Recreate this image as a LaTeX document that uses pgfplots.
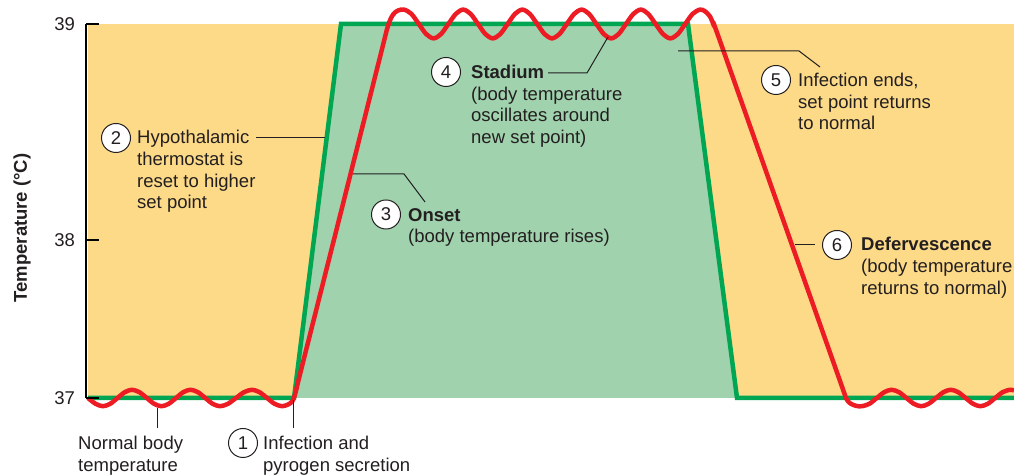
\documentclass[border=0pt]{standalone}
\usepackage{pgfplots}
\pgfplotsset{compat=1.18}
\usepackage{fontspec}
\setmainfont{Liberation Sans}
\definecolor{bgyellow}{HTML}{FDDA88}
\definecolor{fillgreen}{HTML}{A0D2AD}
\definecolor{linegreen}{HTML}{00A651}
\definecolor{linered}{HTML}{ED1C24}
\definecolor{textc}{HTML}{231F20}
\newcommand{\fs}{\fontsize{18.5}{22}\selectfont}
\newcommand{\circnum}[3]{\node[circle,draw=textc,line width=1pt,fill=white,minimum size=29pt,inner sep=0pt,font=\fs,text=textc] at (#1,#2) {#3};}
\newcommand{\txt}[3]{\node[anchor=base west,font=\fs,text=textc,inner sep=0pt] at (#1,#2) {#3};}
\begin{document}
\begin{tikzpicture}
\begin{axis}[
  scale only axis, width=927.5pt, height=374pt,
  xmin=86.5, xmax=1014, ymin=37, ymax=39,
  axis y line*=left, axis x line=none,
  y axis line style={-, line width=2pt, black},
  xtick=\empty,
  ytick={37,37.845,39}, yticklabels={37,38,39},
  tick align=inside, major tick length=13pt,
  ytick style={line width=2pt, black},
  yticklabel style={font=\fs, text=textc, xshift=-8pt},
  /pgf/number format/assume math mode=true,
  axis on top=true,
  clip=false,
]
\addplot[fill=bgyellow, draw=none] coordinates {(88,37) (88,39) (1014,39) (1014,37)} -- cycle;
\addplot[fill=fillgreen, draw=none] coordinates {(294,37) (341,39) (688,39) (737,37)} -- cycle;
\addplot[linegreen, line width=4.5pt, line join=miter] coordinates {
 (88,37) (294,37) (341,39) (688,39) (737,37) (1014,37)};
\addplot[linered, line width=4.5pt, smooth, line join=round, line cap=butt] coordinates {
 (88,37.0) (95.5,36.969) (103,36.956)
 (110.25,36.969) (117.5,37.0) (124.75,37.031) (132,37.044)
 (139.4,37.031) (146.75,37.0) (154.1,36.969) (161.5,36.956)
 (168.75,36.969) (176,37.0) (183.25,37.031) (190.5,37.044)
 (197.9,37.031) (205.25,37.0) (212.6,36.969) (220,36.956)
 (228,36.969) (236,37.0) (244,37.031) (252,37.044)
 (259.5,37.031) (267,37.0) (274.5,36.969) (282,36.956)
 (288,36.965) (292,36.98) (294,37.0) (297,37.06) (300,37.127)
 (342,38.017) (380,38.823) (388,38.99) (393,39.05) (398,39.072)
 (404,39.077) (411.4,39.054) (418.8,39.0) (426.2,38.946) (433.6,38.923)
 (441,38.946) (448.4,39.0) (455.8,39.054) (463.2,39.077)
 (470.6,39.054) (478,39.0) (485.4,38.946) (492.8,38.923)
 (500.2,38.946) (507.6,39.0) (515,39.054) (522.4,39.077)
 (529.8,39.054) (537.2,39.0) (544.6,38.946) (552,38.923)
 (559.4,38.946) (566.8,39.0) (574.2,39.054) (581.6,39.077)
 (589,39.054) (596.4,39.0) (603.8,38.946) (611.2,38.923)
 (618.6,38.946) (626,39.0) (633.4,39.054) (640.8,39.077)
 (648.2,39.054) (655.6,39.0) (663,38.946) (670.4,38.923)
 (677.8,38.946) (685.2,39.0) (692.6,39.054) (700,39.077)
 (705,39.068) (710,39.04) (714,38.99) (718,38.939)
 (780,38.0) (840,37.091) (846,37.0) (850,36.972) (856,36.958) (862,36.956)
 (869.4,36.969) (876.8,37.0) (884.2,37.031) (891.6,37.044)
 (899,37.031) (906.4,37.0) (913.8,36.969) (921.2,36.956)
 (928.6,36.969) (936,37.0) (943.4,37.031) (950.8,37.044)
 (958.2,37.031) (965.6,37.0) (973,36.969) (980.4,36.956)
 (987.8,36.969) (995.2,37.0) (1002.6,37.031) (1010,37.044) (1014,37.04)};
\coordinate (pxorigin) at (axis cs:0,39.1283);
\coordinate (pxend) at (axis cs:1014,36.5882);
\end{axis}
\begin{scope}[shift={(pxorigin)}, x=1pt, y=-1pt]
  % y label
  \node[rotate=90, font=\fs\bfseries, text=textc] at (22,228) {Temperature (°C)};
  % leader lines
  \begin{scope}[textc, line width=1pt]
    \draw (157,408) -- (157,428);
    \draw (293,400) -- (293,428);
    \draw (256,137.5) -- (325,137.5);
    \draw (425,202) -- (404,174) -- (353,174);
    \draw (548,73) -- (587,73) -- (608,37);
    \draw (820,67) -- (799,51) -- (678,51);
    \draw (795,245) -- (815,245);
  \end{scope}
  % annotation: normal body temperature
  \txt{78}{450}{Normal body}
  \txt{78}{471.5}{temperature}
  % 1
  \circnum{243}{443}{1}
  \txt{263}{450}{Infection and}
  \txt{263}{471.5}{pyrogen secretion}
  % 2
  \circnum{116}{138}{2}
  \txt{137}{144}{Hypothalamic}
  \txt{137}{165.7}{thermostat is}
  \txt{137}{187.3}{reset to higher}
  \txt{137}{209}{set point}
  % 3
  \circnum{386}{214.5}{3}
  \txt{408}{221.5}{\bfseries Onset}
  \txt{408}{243}{(body temperature rises)}
  % 4
  \circnum{446}{72}{4}
  \txt{471}{78.7}{\bfseries Stadium}
  \txt{471}{100.4}{(body temperature}
  \txt{471}{122}{oscillates around}
  \txt{471}{143.7}{new set point)}
  % 5
  \circnum{776}{80}{5}
  \txt{798}{86.7}{Infection ends,}
  \txt{798}{108.4}{set point returns}
  \txt{798}{130}{to normal}
  % 6
  \circnum{837}{245}{6}
  \txt{861}{251}{\bfseries Defervescence}
  \txt{861}{272.7}{(body temperature}
  \txt{861}{294.4}{returns to normal)}
\end{scope}
\pgfresetboundingbox
\path (pxorigin) rectangle (pxend);
\end{tikzpicture}
\end{document}
